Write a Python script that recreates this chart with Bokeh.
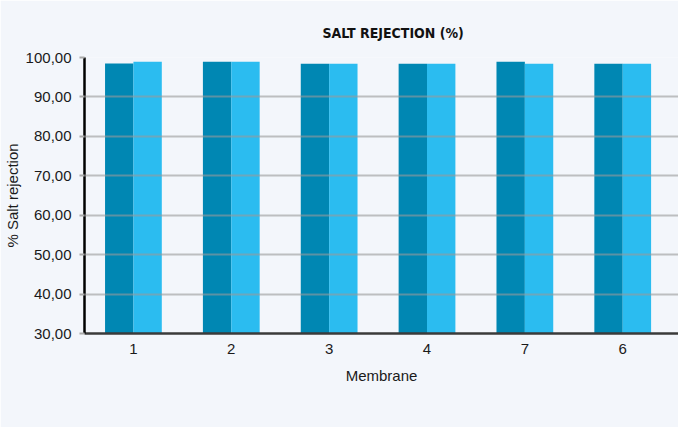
from bokeh.plotting import figure
from bokeh.models import ColumnDataSource, FixedTicker, Range1d, Legend, LegendItem
from bokeh.transform import dodge
from bokeh.embed import file_html
from bokeh.resources import INLINE

# ---- data ----
membranes = ["1", "2", "3", "4", "7", "6"]
initial = [98.5, 98.9, 98.4, 98.4, 98.9, 98.4]
final = [98.9, 98.9, 98.4, 98.4, 98.4, 98.4]
y_ticks = [30, 40, 50, 60, 70, 80, 90, 100]
y_tick_labels = ["30,00", "40,00", "50,00", "60,00", "70,00", "80,00", "90,00", "100,00"]
series_names = ["INITIAL", "FINAL"]

BG = "#f3f6fb"
DARK = "#0087b3"
LIGHT = "#2bbcf0"
TICK_FONT = "Liberation Sans"
TITLE_FONT = "DejaVu Sans Condensed"

xpos = [i + 0.5 for i in range(len(membranes))]
src = ColumnDataSource(dict(x=xpos, initial=initial, final=final))

p = figure(width=678, height=427, output_backend="svg", toolbar_location=None,
           x_range=Range1d(0, 6.07), y_range=Range1d(30, 100),
           background_fill_color=BG, border_fill_color=BG,
           min_border_left=77, min_border_right=0, min_border_top=57,
           min_border_bottom=94, outline_line_color=None)

r1 = p.vbar(x=dodge("x", -0.145), top="initial", bottom=30, width=0.29, source=src,
            fill_color=DARK, line_color=None)
r2 = p.vbar(x=dodge("x", 0.145), top="final", bottom=30, width=0.29, source=src,
            fill_color=LIGHT, line_color=None)

# title
p.title.text = "SALT REJECTION (%)"
p.title.align = "left"
p.title.offset = 238
p.title.text_font = TITLE_FONT
p.title.text_font_style = "bold"
p.title.text_font_size = "14px"
p.title.text_color = "#111111"
p.title.standoff = 34

# grid
p.xgrid.visible = False
p.ygrid.ticker = FixedTicker(ticks=y_ticks)
p.ygrid.level = "overlay"
p.ygrid.grid_line_color = "#999999"
p.ygrid.grid_line_alpha = 0.6
p.ygrid.grid_line_width = 2

# y axis
ya = p.yaxis[0]
ya.ticker = FixedTicker(ticks=y_ticks)
ya.major_label_overrides = {t: l for t, l in zip(y_ticks, y_tick_labels)}
ya.axis_line_color = "#000000"
ya.axis_line_width = 2.5
ya.major_tick_out = 5
ya.major_tick_in = 0
ya.major_tick_line_color = "#aaaaaa"
ya.major_tick_line_width = 2
ya.minor_tick_line_color = None
ya.major_label_text_font = TICK_FONT
ya.major_label_text_font_size = "15px"
ya.major_label_text_color = "#1a1a1a"
ya.major_label_standoff = 8
ya.axis_label = "% Salt rejection"
ya.axis_label_text_font = TICK_FONT
ya.axis_label_text_font_size = "15px"
ya.axis_label_text_font_style = "normal"
ya.axis_label_text_color = "#1a1a1a"
ya.axis_label_standoff = 2

# x axis
xa = p.xaxis[0]
xa.ticker = FixedTicker(ticks=xpos)
xa.major_label_overrides = {x: m for x, m in zip(xpos, membranes)}
xa.axis_line_color = "#3a3a3a"
xa.axis_line_width = 2.5
xa.major_tick_line_color = None
xa.minor_tick_line_color = None
xa.major_label_text_font = TICK_FONT
xa.major_label_text_font_size = "15px"
xa.major_label_text_color = "#1a1a1a"
xa.major_label_standoff = 4
xa.axis_label = "Membrane"
xa.axis_label_text_font = TICK_FONT
xa.axis_label_text_font_size = "15px"
xa.axis_label_text_font_style = "normal"
xa.axis_label_text_color = "#1a1a1a"
xa.axis_label_standoff = 10

# legend (lies beyond the visible area, as in the reference)
legend = Legend(items=[LegendItem(label=series_names[0], renderers=[r1]),
                       LegendItem(label=series_names[1], renderers=[r2])],
                location=(558, -94), orientation="horizontal",
                background_fill_alpha=0, border_line_color=None,
                padding=0, margin=0, spacing=10,
                glyph_width=34, glyph_height=12, label_standoff=5,
                label_text_font=TITLE_FONT, label_text_font_style="bold",
                label_text_font_size="14px", label_height=12)
p.add_layout(legend, "center")

open("out.html", "w").write(file_html(p, INLINE))
